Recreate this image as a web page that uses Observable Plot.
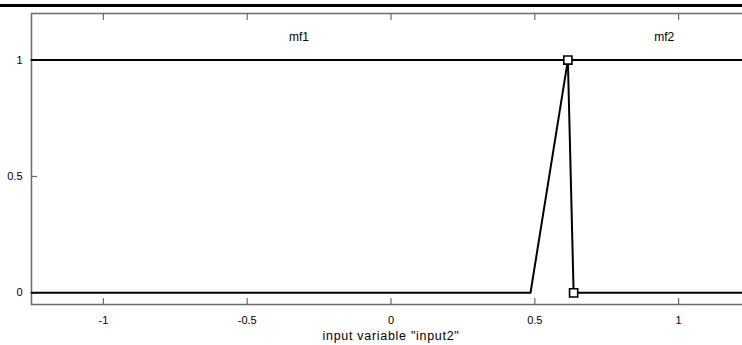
<!DOCTYPE html>
<html>
<head>
<meta charset="utf-8">
<script src="https://cdn.jsdelivr.net/npm/d3@7"></script>
<script src="https://cdn.jsdelivr.net/npm/@observablehq/plot@0.6"></script>
<style>
  html, body { margin: 0; padding: 0; background: #fff; overflow: hidden; width: 742px; height: 345px; }
  #topbar { margin-top: 4px; height: 3px; width: 742px; background: #000; }
  #chart svg { display: block; max-width: none !important; }
  #chart svg g[aria-label="x-axis label"] text { font-size: 12.5px; letter-spacing: 0.7px; fill: #000; }
</style>
</head>
<body>
<div id="topbar"></div>
<div id="chart"></div>
<script>
// Membership functions of input variable "input2"
const mf1X = [-1.25, 1.25];
const mf1Y = [1, 1];
const mf2X = [-1.25, 0.485, 0.615, 0.635, 1.25];
const mf2Y = [0, 0, 1, 0, 0];
// selected-MF square handles
const handleX = [0.615, 0.635];
const handleY = [1, 0];
// labels
const mfNames = ["mf1", "mf2"];
const mfLabelX = [-0.32, 0.95];
const mfLabelY = [1.1, 1.1];
// ticks
const xTicks = [-1, -0.5, 0, 0.5, 1];
const yTicks = [0, 0.5, 1];
const xLabel = 'input variable "input2"';

const mf1 = mf1X.map((x, i) => ({x, y: mf1Y[i]}));
const mf2 = mf2X.map((x, i) => ({x, y: mf2Y[i]}));
const handles = handleX.map((x, i) => ({x, y: handleY[i]}));
const labels = mfNames.map((name, i) => ({name, x: mfLabelX[i], y: mfLabelY[i]}));

const frameColor = "#6a6a6a";
const fmt = d => String(d);

const chart = Plot.plot({
  width: 752,
  height: 338,
  marginLeft: 31,
  marginRight: 2,
  marginTop: 6,
  marginBottom: 41,
  style: {fontFamily: "'Liberation Sans', Arial, sans-serif", fontSize: "11px", background: "#fff", overflow: "visible", maxWidth: "none"},
  x: {domain: [-1.25, 1.25]},
  y: {domain: [-0.05, 1.2]},
  marks: [
    Plot.frame({stroke: frameColor, strokeWidth: 1.5}),
    // inward tick marks on all four sides
    Plot.axisX(xTicks, {anchor: "bottom", tickSize: 6, dy: -6, text: null, stroke: frameColor, strokeWidth: 1.2, label: null}),
    Plot.axisX(xTicks, {anchor: "top", tickSize: 6, dy: 6, text: null, stroke: frameColor, strokeWidth: 1.2, label: null}),
    Plot.axisY(yTicks, {anchor: "left", tickSize: 6, dx: 6, text: null, stroke: frameColor, strokeWidth: 1.2, label: null}),
    Plot.axisY(yTicks, {anchor: "right", tickSize: 6, dx: -6, text: null, stroke: frameColor, strokeWidth: 1.2, label: null}),
    // tick labels
    Plot.axisX(xTicks, {anchor: "bottom", tickSize: 0, tickPadding: 12, fontSize: 11, fill: "#000", tickFormat: fmt,
      label: xLabel, labelAnchor: "center", labelOffset: 35, labelArrow: "none"}),
    Plot.axisY(yTicks, {anchor: "left", tickSize: 0, tickPadding: 9, fontSize: 11, fill: "#000", tickFormat: fmt, label: null}),
    // membership functions
    Plot.line(mf1, {x: "x", y: "y", stroke: "#000", strokeWidth: 2}),
    Plot.line(mf2, {x: "x", y: "y", stroke: "#000", strokeWidth: 2, curve: "linear"}),
    Plot.dot(handles, {x: "x", y: "y", symbol: "square", r: 4.6, stroke: "#000", strokeWidth: 1.6, fill: "#fff"}),
    Plot.text(labels, {x: "x", y: "y", text: "name", fontSize: 12, fill: "#000"})
  ]
});
document.getElementById("chart").appendChild(chart);
</script>
</body>
</html>
